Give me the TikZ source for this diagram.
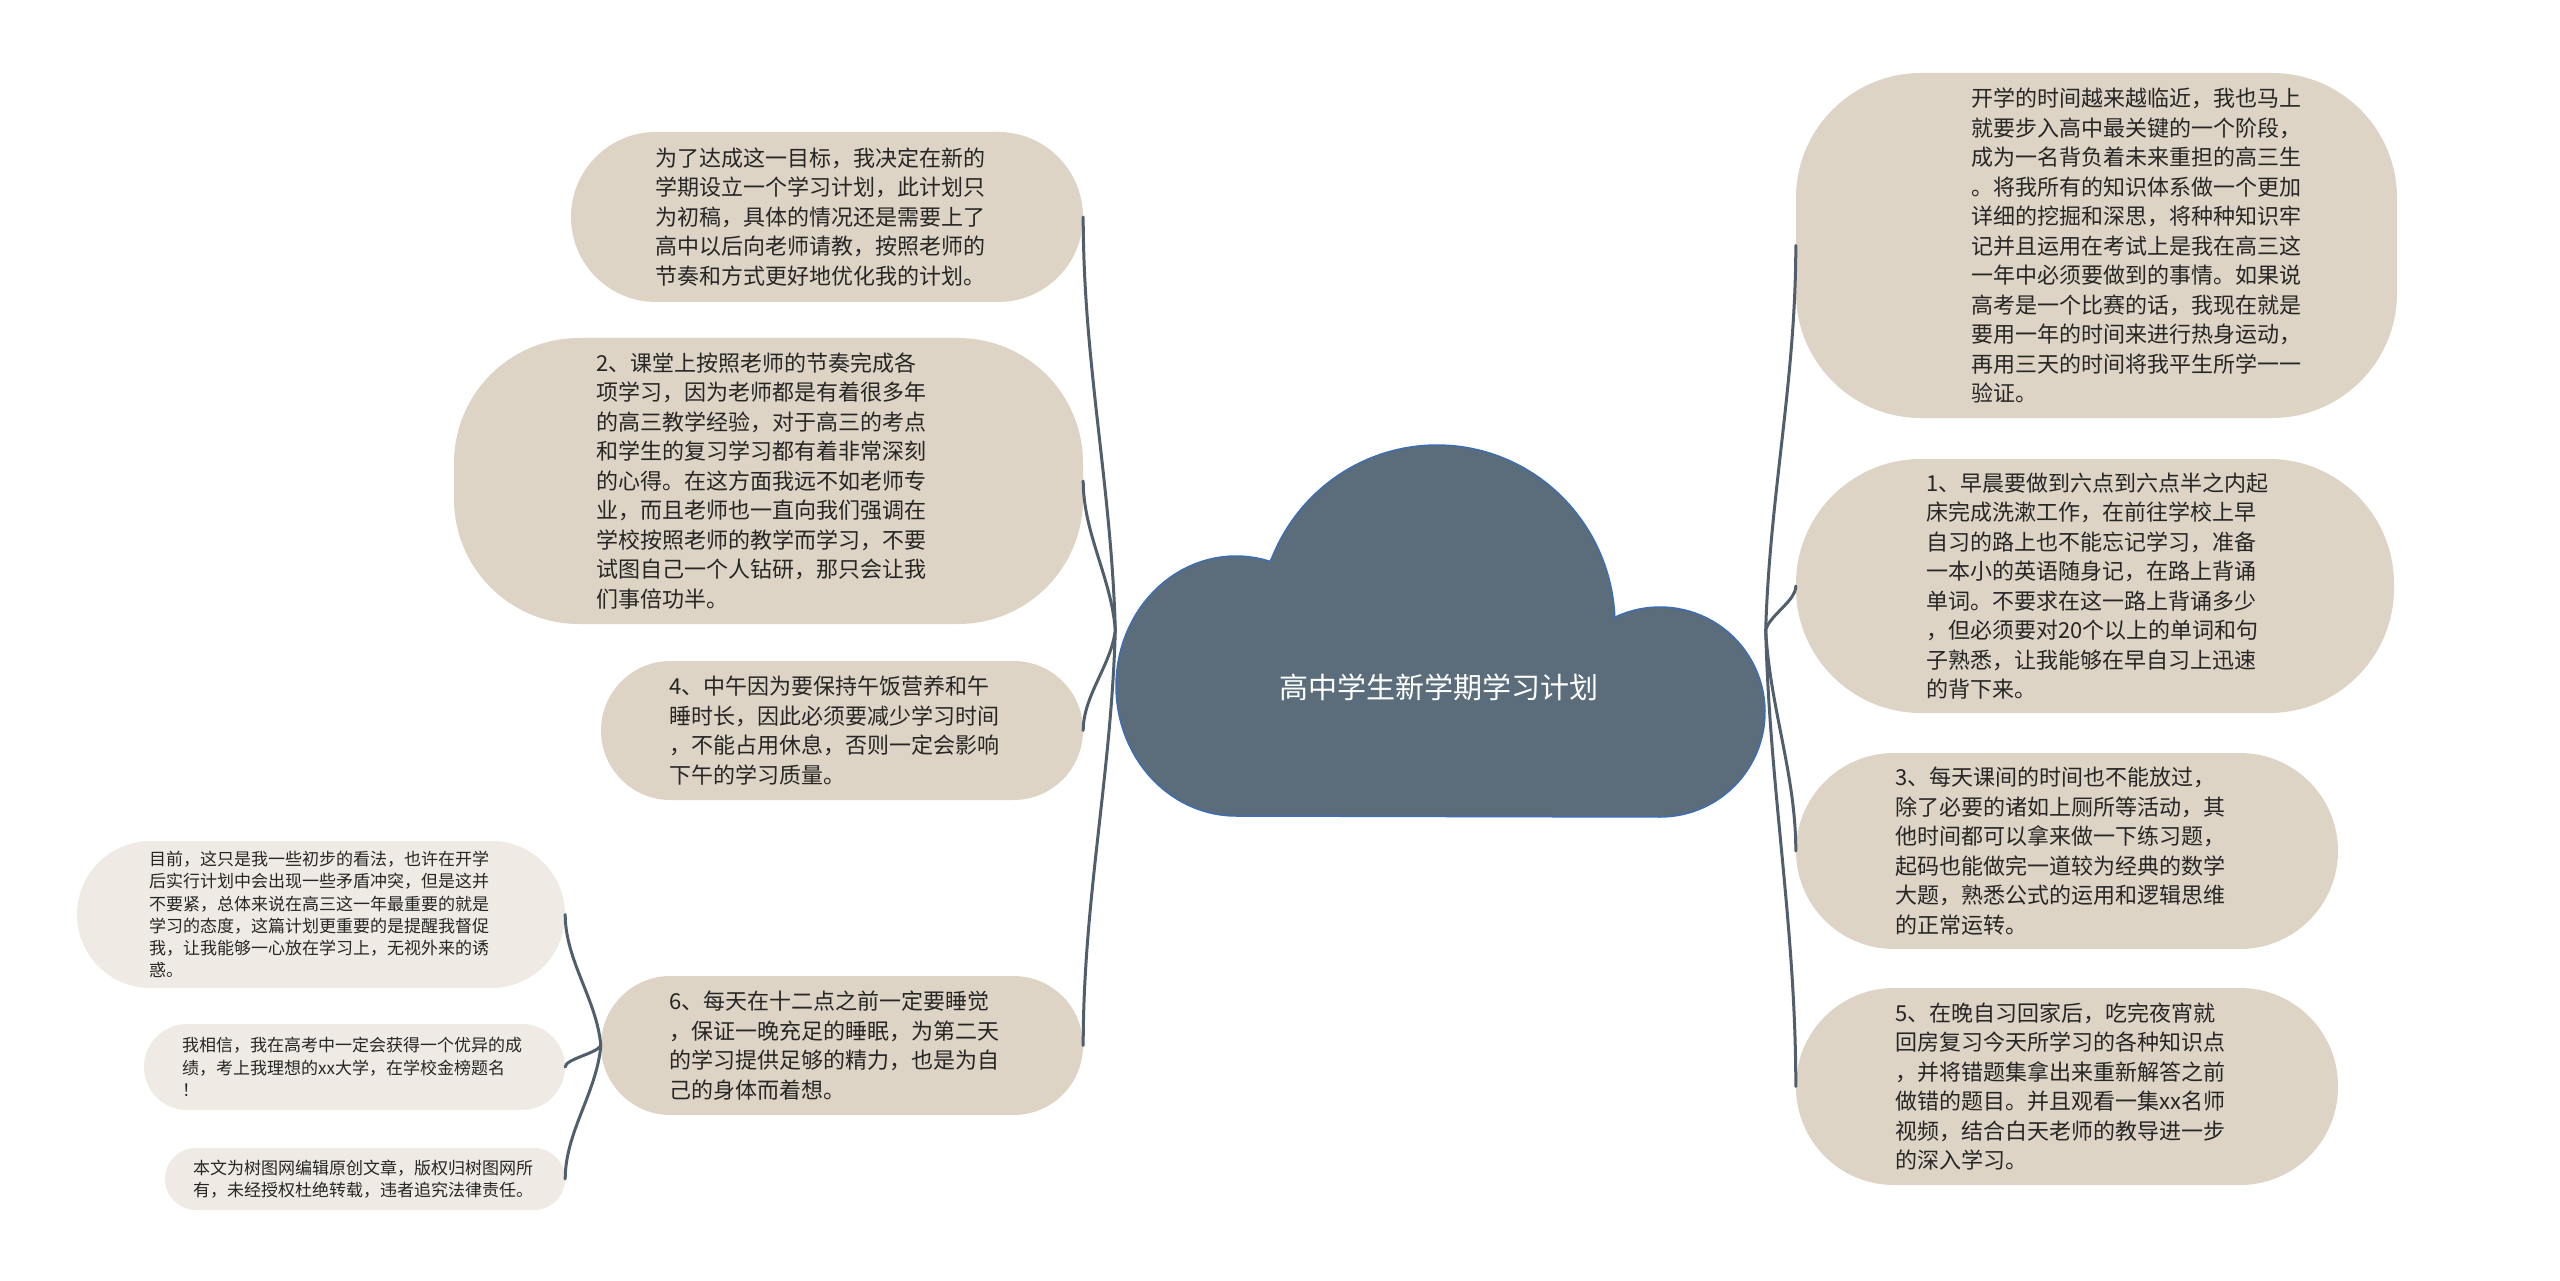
\documentclass[tikz,border=0pt]{standalone}
\usepackage{fontspec}
\setmainfont{Noto Sans CJK SC}
\usetikzlibrary{calc}
\definecolor{boxc}{RGB}{221,212,197}
\definecolor{sboxc}{RGB}{239,235,228}
\definecolor{cloudc}{RGB}{91,108,123}
\definecolor{cloudline}{RGB}{62,110,178}
\definecolor{linec}{RGB}{80,95,107}
\definecolor{txtc}{RGB}{38,38,38}
\begin{document}
\begin{tikzpicture}[x=1pt,y=-1pt,
  pill/.style={rectangle, fill=boxc, draw=none, inner sep=0pt},
  spill/.style={rectangle, fill=sboxc, draw=none, inner sep=0pt},
  txt/.style={anchor=west, align=left, inner sep=0pt, text=txtc, font=\fontsize{22}{29.5}\selectfont},
  stxt/.style={anchor=west, align=left, inner sep=0pt, text=txtc, font=\fontsize{17}{22.2}\selectfont},
  conn/.style={draw=linec, line width=3pt, line cap=round}]
\fill[white] (0,0) rectangle (2560,1281);
\useasboundingbox (0,0) rectangle (2560,1281);

% central cloud
\filldraw[fill=cloudc, draw=cloudline, line width=1.5pt]
  plot[domain=90:286.5, samples=60, variable=\t] ({1236+120*cos(\t)},{686+130*sin(\t)})
  -- plot[domain=202:358, samples=70, variable=\t] ({1437+178*cos(\t)},{625+180*sin(\t)})
  -- plot[domain=244.5:450, samples=60, variable=\t] ({1660+105*cos(\t)},{712+105*sin(\t)})
  -- cycle;
\node[rectangle, minimum width=650pt, minimum height=372pt, inner sep=0pt] (root) at (1440.5,630) {};
\node[text=white, inner sep=0pt, font=\fontsize{29}{35}\selectfont] (title) at (1439,687) {高中学生新学期学习计划};

% left boxes
\node[pill, minimum width=512pt, minimum height=170pt, rounded corners=85pt] (L1) at (827,217) {};
\node[pill, minimum width=629pt, minimum height=286pt, rounded corners=125pt] (L2) at (768.5,481) {};
\node[pill, minimum width=482pt, minimum height=139pt, rounded corners=69.5pt] (L3) at (842,730.5) {};
\node[pill, minimum width=482pt, minimum height=139pt, rounded corners=69.5pt] (L4) at (842,1045.5) {};

% small left boxes
\node[spill, minimum width=488pt, minimum height=147pt, rounded corners=73.5pt] (S1) at (321,914.5) {};
\node[spill, minimum width=421pt, minimum height=86pt, rounded corners=43pt] (S2) at (354.5,1067) {};
\node[spill, minimum width=400pt, minimum height=62pt, rounded corners=31pt] (S3) at (365,1179) {};

% right boxes
\node[pill, minimum width=601pt, minimum height=345pt, rounded corners=125pt] (R1) at (2096.5,245.5) {};
\node[pill, minimum width=598pt, minimum height=254pt, rounded corners=125pt] (R2) at (2095,586) {};
\node[pill, minimum width=542pt, minimum height=196pt, rounded corners=98pt] (R3) at (2067,851) {};
\node[pill, minimum width=542pt, minimum height=197pt, rounded corners=98pt] (R4) at (2067,1086.5) {};

% connectors
\draw[conn] (root.west) .. controls ($(root.west)+(-4,-145)$) and ($(L1.east)+(0,145)$) .. (L1.east);
\draw[conn] (root.west) .. controls ($(root.west)+(-4,-52)$) and ($(L2.east)+(0,52)$) .. (L2.east);
\draw[conn] (root.west) .. controls ($(root.west)+(-4,35)$) and ($(L3.east)+(0,-35)$) .. (L3.east);
\draw[conn] (root.west) .. controls ($(root.west)+(-4,145)$) and ($(L4.east)+(0,-145)$) .. (L4.east);
\draw[conn] (root.east) .. controls ($(root.east)+(4,-135)$) and ($(R1.west)+(0,135)$) .. (R1.west);
\draw[conn] (root.east) .. controls ($(root.east)+(4,-15)$) and ($(R2.west)+(0,15)$) .. (R2.west);
\draw[conn] (root.east) .. controls ($(root.east)+(4,77)$) and ($(R3.west)+(0,-77)$) .. (R3.west);
\draw[conn] (root.east) .. controls ($(root.east)+(4,160)$) and ($(R4.west)+(0,-160)$) .. (R4.west);
\draw[conn] (L4.west) .. controls ($(L4.west)+(-4,-46)$) and ($(S1.east)+(0,46)$) .. (S1.east);
\draw[conn] (L4.west) .. controls ($(L4.west)+(-4,8)$) and ($(S2.east)+(0,-8)$) .. (S2.east);
\draw[conn] (L4.west) .. controls ($(L4.west)+(-4,47)$) and ($(S3.east)+(0,-47)$) .. (S3.east);

% texts
\node[txt] (L1t) at (655,217) {为了达成这一目标，我决定在新的\\学期设立一个学习计划，此计划只\\为初稿，具体的情况还是需要上了\\高中以后向老师请教，按照老师的\\节奏和方式更好地优化我的计划。};
\node[txt] (L2t) at (596,481) {2、课堂上按照老师的节奏完成各\\项学习，因为老师都是有着很多年\\的高三教学经验，对于高三的考点\\和学生的复习学习都有着非常深刻\\的心得。在这方面我远不如老师专\\业，而且老师也一直向我们强调在\\学校按照老师的教学而学习，不要\\试图自己一个人钻研，那只会让我\\们事倍功半。};
\node[txt] (L3t) at (669,730.5) {4、中午因为要保持午饭营养和午\\睡时长，因此必须要减少学习时间\\，不能占用休息，否则一定会影响\\下午的学习质量。};
\node[txt] (L4t) at (669,1045.5) {6、每天在十二点之前一定要睡觉\\，保证一晚充足的睡眠，为第二天\\的学习提供足够的精力，也是为自\\己的身体而着想。};
\node[stxt] (S1t) at (149,914.5) {目前，这只是我一些初步的看法，也许在开学\\后实行计划中会出现一些矛盾冲突，但是这并\\不要紧，总体来说在高三这一年最重要的就是\\学习的态度，这篇计划更重要的是提醒我督促\\我，让我能够一心放在学习上，无视外来的诱\\惑。};
\node[stxt] (S2t) at (182,1067) {我相信，我在高考中一定会获得一个优异的成\\绩，考上我理想的xx大学，在学校金榜题名\\！};
\node[stxt] (S3t) at (193,1179) {本文为树图网编辑原创文章，版权归树图网所\\有，未经授权杜绝转载，违者追究法律责任。};
\node[txt] (R1t) at (1971,245.5) {开学的时间越来越临近，我也马上\\就要步入高中最关键的一个阶段，\\成为一名背负着未来重担的高三生\\。将我所有的知识体系做一个更加\\详细的挖掘和深思，将种种知识牢\\记并且运用在考试上是我在高三这\\一年中必须要做到的事情。如果说\\高考是一个比赛的话，我现在就是\\要用一年的时间来进行热身运动，\\再用三天的时间将我平生所学一一\\验证。};
\node[txt] (R2t) at (1926,586) {1、早晨要做到六点到六点半之内起\\床完成洗漱工作，在前往学校上早\\自习的路上也不能忘记学习，准备\\一本小的英语随身记，在路上背诵\\单词。不要求在这一路上背诵多少\\，但必须要对20个以上的单词和句\\子熟悉，让我能够在早自习上迅速\\的背下来。};
\node[txt] (R3t) at (1895,851) {3、每天课间的时间也不能放过，\\除了必要的诸如上厕所等活动，其\\他时间都可以拿来做一下练习题，\\起码也能做完一道较为经典的数学\\大题，熟悉公式的运用和逻辑思维\\的正常运转。};
\node[txt] (R4t) at (1895,1086.5) {5、在晚自习回家后，吃完夜宵就\\回房复习今天所学习的各种知识点\\，并将错题集拿出来重新解答之前\\做错的题目。并且观看一集xx名师\\视频，结合白天老师的教导进一步\\的深入学习。};
\end{tikzpicture}
\end{document}
